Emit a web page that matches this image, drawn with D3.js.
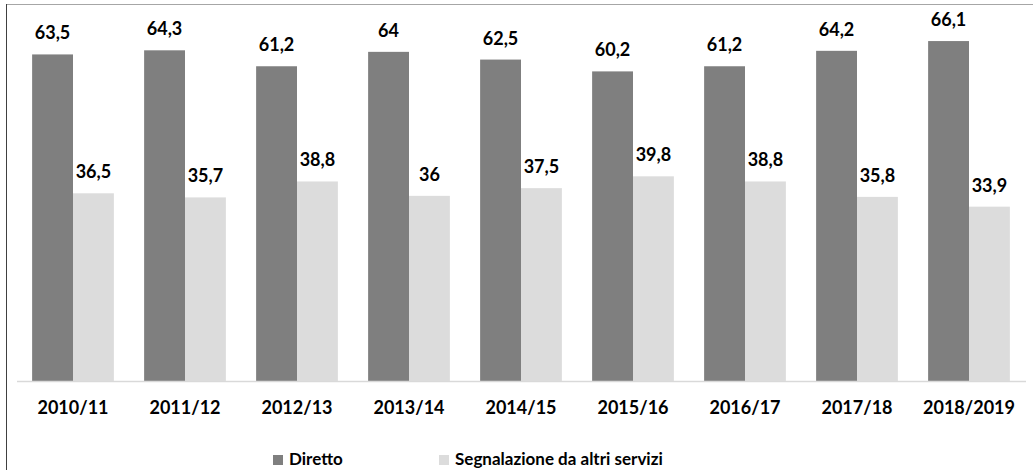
<!DOCTYPE html>
<html>
<head>
<meta charset="utf-8">
<script src="https://cdn.jsdelivr.net/npm/d3@7"></script>
<style>
  body { margin: 0; background: #fff; }
  svg text { font-family: Lato, "Open Sans", sans-serif; font-weight: bold; fill: #000; }
</style>
</head>
<body>
<svg id="chart" width="1033" height="470"></svg>
<script>
var years = ['2010/11', '2011/12', '2012/13', '2013/14', '2014/15', '2015/16', '2016/17', '2017/18', '2018/2019'];
var diretto = [63.5, 64.3, 61.2, 64, 62.5, 60.2, 61.2, 64.2, 66.1];
var segnalazione = [36.5, 35.7, 38.8, 36, 37.5, 39.8, 38.8, 35.8, 33.9];
var seriesNames = ['Diretto', 'Segnalazione da altri servizi'];
var colors = ['#7f7f7f', '#dcdcdc'];

var svg = d3.select('#chart');

// chart frame (only top and left edges show)
svg.append('line').attr('x1', 6).attr('x2', 1033).attr('y1', 4.5).attr('y2', 4.5)
  .attr('stroke', '#a6a6a6').attr('stroke-width', 1);
svg.append('line').attr('x1', 6.5).attr('x2', 6.5).attr('y1', 4).attr('y2', 470)
  .attr('stroke', '#404040').attr('stroke-width', 1);

var x0 = d3.scaleBand().domain(years).range([17, 1025]).paddingInner(0.27).paddingOuter(0.135);
var x1 = d3.scaleBand().domain([0, 1]).range([0, x0.bandwidth()]);
var y = d3.scaleLinear().domain([0, 70]).range([381, 21]);

var data = years.map(function(d, i) {
  return { year: d, values: [diretto[i], segnalazione[i]] };
});

var groups = svg.selectAll('g.grp').data(data).enter().append('g')
  .attr('class', 'grp')
  .attr('transform', function(d) { return 'translate(' + x0(d.year) + ',0)'; });

groups.selectAll('rect').data(function(d) { return d.values; }).enter().append('rect')
  .attr('x', function(v, j) { return x1(j); })
  .attr('width', x1.bandwidth())
  .attr('y', function(v) { return y(v); })
  .attr('height', function(v) { return y(0) - y(v); })
  .attr('fill', function(v, j) { return colors[j]; });

groups.selectAll('text.val').data(function(d) { return d.values; }).enter().append('text')
  .attr('class', 'val')
  .attr('x', function(v, j) { return x1(j) + x1.bandwidth() / 2; })
  .attr('y', function(v) { return y(v) - 15; })
  .attr('text-anchor', 'middle')
  .attr('font-size', 18)
  .text(function(v) { return String(v).replace('.', ','); });

// baseline
svg.append('line').attr('x1', 17).attr('x2', 1026).attr('y1', 381.5).attr('y2', 381.5)
  .attr('stroke', '#d9d9d9').attr('stroke-width', 1.5);

var xAxis = svg.append('g').attr('transform', 'translate(0,381)')
  .call(d3.axisBottom(x0).tickSize(0).tickPadding(0));
xAxis.select('.domain').remove();
xAxis.selectAll('text').attr('dy', null).attr('y', 33).attr('font-size', 18)
  .style('font-family', 'Lato, "Open Sans", sans-serif').style('font-weight', 'bold').attr('fill', '#000');

// legend
var legendX = [273, 439];
var legend = svg.selectAll('g.leg').data(seriesNames).enter().append('g')
  .attr('class', 'leg')
  .attr('transform', function(d, i) { return 'translate(' + legendX[i] + ',0)'; });
legend.append('rect').attr('x', 0).attr('y', 455).attr('width', 10).attr('height', 10)
  .attr('fill', function(d, i) { return colors[i]; });
legend.append('text').attr('x', 16).attr('y', 465).attr('font-size', 17)
  .text(function(d) { return d; });
</script>
</body>
</html>
